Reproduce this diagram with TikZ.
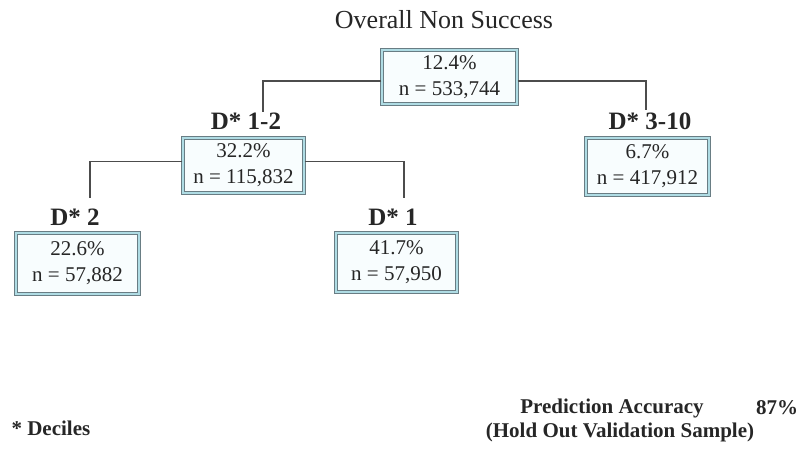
\documentclass[tikz,border=0pt]{standalone}
\usepackage{fontspec}
\setmainfont{Liberation Serif}
\begin{document}
\begin{tikzpicture}[x=1pt,y=-1pt,
  box/.style={draw={rgb,255:red,105;green,125;blue,132}, line width=1.4pt, double={rgb,255:red,175;green,220;blue,228}, double distance=1.2pt, fill={rgb,255:red,248;green,253;blue,254}, inner sep=0pt, align=center, font=\fontsize{21}{26}\selectfont, text=black!85},
  lbl/.style={font=\bfseries\fontsize{25}{28}\selectfont, text=black!85},
  foot/.style={font=\bfseries\fontsize{21}{24}\selectfont, text=black!85},
  conn/.style={draw=black!70, line width=1.2pt}]
\useasboundingbox (0,0) rectangle (803,448);
\node[font=\fontsize{26}{30}\selectfont, text=black!85] (title) at (444,20) {Overall Non Success};
\node[box, minimum width=135, minimum height=54] (root) at (449.5,77) {12.4\%\\n = 533,744};
\node[lbl] (l12) at (246,121) {D* 1-2};
\node[box, minimum width=121, minimum height=55] (b12) at (243.5,165.5) {32.2\%\\n = 115,832};
\node[lbl] (l310) at (650,121) {D* 3-10};
\node[box, minimum width=123, minimum height=57] (b310) at (647.5,166.5) {6.7\%\\n = 417,912};
\node[lbl] (l2) at (75,217) {D* 2};
\node[box, minimum width=123, minimum height=61] (b2) at (77.5,263.5) {22.6\%\\n = 57,882};
\node[lbl] (l1) at (393,217) {D* 1};
\node[box, minimum width=121, minimum height=59] (b1) at (396.5,262.5) {41.7\%\\n = 57,950};
\coordinate (c1) at (263,112);
\coordinate (c2) at (646,110);
\coordinate (c3) at (90,198);
\coordinate (c4) at (404,198);
\draw[conn] ([yshift=-4]root.west) -| (c1);
\draw[conn] ([yshift=-4]root.east) -| (c2);
\draw[conn] ([yshift=4]b12.west) -| (c3);
\draw[conn] ([yshift=4]b12.east) -| (c4);
\node[foot, anchor=west] (dec) at (8,428) {* Deciles};
\node[foot] (pa) at (612,408) {Prediction Accuracy};
\node[foot] (pct) at (777,408) {87\%};
\node[foot] (hold) at (620,432) {(Hold Out Validation Sample)};
\end{tikzpicture}
\end{document}
